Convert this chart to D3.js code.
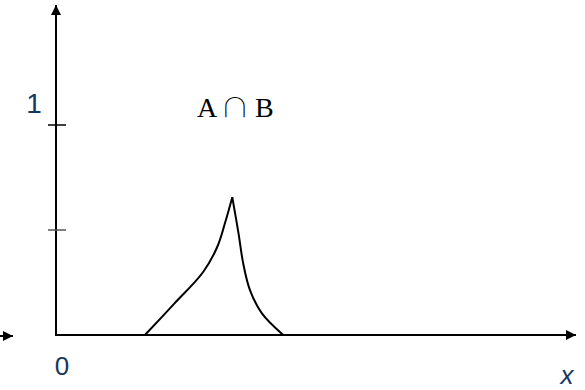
<!DOCTYPE html>
<html>
<head>
<meta charset="utf-8">
<script src="https://cdn.jsdelivr.net/npm/d3@7"></script>
<style>
  html, body { margin: 0; padding: 0; background: #fff; }
  svg { display: block; }
</style>
</head>
<body>
<svg id="chart" width="585" height="390"></svg>
<script>
// Membership function of the intersection A ∩ B
const leftBranchX  = [1.71, 2.27, 2.83, 3.10, 3.25, 3.39];
const leftBranchMu = [0, 0.148, 0.300, 0.419, 0.533, 0.656];
const rightBranchX  = [3.39, 3.51, 3.60, 3.73, 3.96, 4.37];
const rightBranchMu = [0.656, 0.484, 0.341, 0.214, 0.103, 0];

const yTickValues = [0.5, 1];
const yTickLabels = ["", "1"];
const originLabel = "0";
const xAxisLabel = "x";
const setLabelParts = ["A", "\u2229", "B"];

const svg = d3.select("#chart");
const ink = "#000";
const labelColor = "#17375e";
const sans = "'Liberation Sans', Arial, sans-serif";
const serif = "'Liberation Serif', 'Times New Roman', serif";

// Scales: x in universe units, y in membership degree
const x = d3.scaleLinear().domain([0, 10]).range([56, 576]);
const y = d3.scaleLinear().domain([0, 1]).range([335, 125]);

// Arrow marker
const defs = svg.append("defs");
defs.append("marker")
  .attr("id", "arrow")
  .attr("viewBox", "0 0 10 10")
  .attr("refX", 10).attr("refY", 5)
  .attr("markerWidth", 12).attr("markerHeight", 10)
  .attr("markerUnits", "userSpaceOnUse")
  .attr("orient", "auto")
  .append("path")
  .attr("d", "M0,0 L10,5 L0,10 Z")
  .attr("fill", ink);

// Axes
svg.append("line")
  .attr("x1", x(0)).attr("y1", y(0))
  .attr("x2", x(10)).attr("y2", y(0))
  .attr("stroke", ink).attr("stroke-width", 2)
  .attr("marker-end", "url(#arrow)");

svg.append("line")
  .attr("x1", x(0)).attr("y1", y(0) + 1)
  .attr("x2", x(0)).attr("y2", y(1.571))
  .attr("stroke", ink).attr("stroke-width", 2)
  .attr("marker-end", "url(#arrow)");

// Short arrow at the left edge pointing into the x axis
svg.append("line")
  .attr("x1", 0).attr("y1", y(0) + 1)
  .attr("x2", 13).attr("y2", y(0) + 1)
  .attr("stroke", ink).attr("stroke-width", 2)
  .attr("marker-end", "url(#arrow)");

// Y ticks
svg.selectAll("line.ytick")
  .data(yTickValues)
  .join("line")
  .attr("class", "ytick")
  .attr("x1", x(0) - 8).attr("x2", x(0) + 10)
  .attr("y1", d => y(d)).attr("y2", d => y(d))
  .attr("stroke", (d, i) => i === 0 ? "#555" : ink)
  .attr("stroke-width", 1.5);

svg.selectAll("text.ylab")
  .data(yTickValues)
  .join("text")
  .attr("class", "ylab")
  .attr("x", 34)
  .attr("y", d => y(d) - 12)
  .attr("text-anchor", "middle")
  .attr("font-family", sans)
  .attr("font-size", 28)
  .attr("fill", labelColor)
  .text((d, i) => yTickLabels[i]);

svg.append("text")
  .attr("x", 62).attr("y", 375)
  .attr("text-anchor", "middle")
  .attr("font-family", sans)
  .attr("font-size", 26)
  .attr("fill", labelColor)
  .text(originLabel);

svg.append("text")
  .attr("x", 567).attr("y", 384)
  .attr("text-anchor", "middle")
  .attr("font-family", sans)
  .attr("font-style", "italic")
  .attr("font-size", 26)
  .attr("fill", labelColor)
  .text(xAxisLabel);

// Set label: A, intersection sign, B
const setLabel = svg.append("g").attr("class", "set-label");
setLabel.append("text")
  .attr("x", 197).attr("y", 117)
  .attr("font-family", serif)
  .attr("font-size", 28)
  .attr("fill", ink)
  .text(setLabelParts[0]);
setLabel.append("text")
  .attr("transform", "translate(235,117) scale(1.15,1)")
  .attr("text-anchor", "middle")
  .attr("font-family", "'Noto Sans CJK JP', sans-serif")
  .attr("font-weight", 100)
  .attr("font-size", 26)
  .attr("fill", ink)
  .text(setLabelParts[1]);
setLabel.append("text")
  .attr("x", 255).attr("y", 117)
  .attr("font-family", serif)
  .attr("font-size", 28)
  .attr("fill", ink)
  .text(setLabelParts[2]);

// Membership curve: two smooth branches meeting at a sharp peak
const line = d3.line()
  .x(d => x(d[0]))
  .y(d => y(d[1]))
  .curve(d3.curveCatmullRom.alpha(0.5));

const branches = [
  d3.zip(leftBranchX, leftBranchMu),
  d3.zip(rightBranchX, rightBranchMu)
];

svg.selectAll("path.branch")
  .data(branches)
  .join("path")
  .attr("class", "branch")
  .attr("d", line)
  .attr("fill", "none")
  .attr("stroke", ink)
  .attr("stroke-width", 2)
  .attr("stroke-linejoin", "miter");
</script>
</body>
</html>
